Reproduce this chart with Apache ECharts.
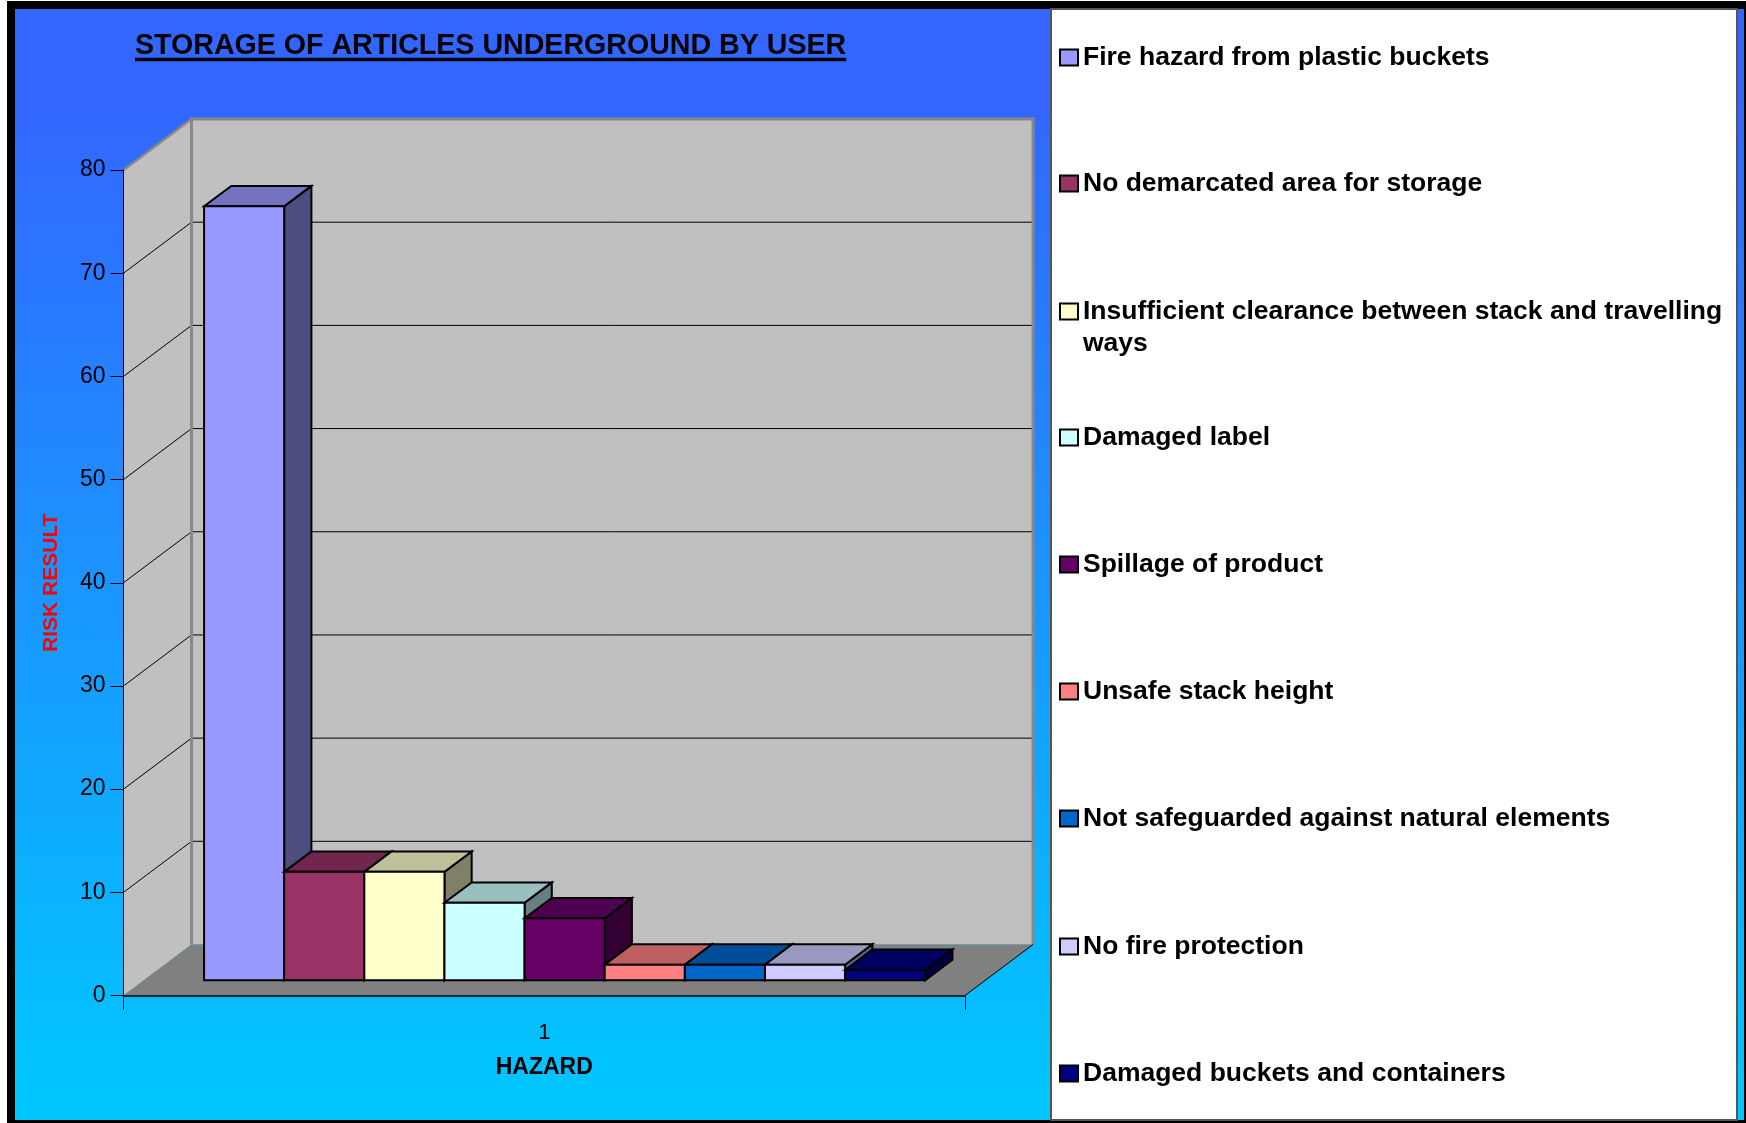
<!DOCTYPE html>
<html>
<head>
<meta charset="utf-8">
<script src="https://cdn.jsdelivr.net/npm/echarts@6/dist/echarts.min.js"></script>
<style>
html,body{margin:0;padding:0;background:#fff;}
#chart{width:1746px;height:1123px;}
</style>
</head>
<body>
<div id="chart"></div>
<script>
// ---------------- data ----------------
const categories = ['1'];
const hazards = [
  'Fire hazard from plastic buckets',
  'No demarcated area for storage',
  'Insufficient clearance between stack and travelling ways',
  'Damaged label',
  'Spillage of product',
  'Unsafe stack height',
  'Not safeguarded against natural elements',
  'No fire protection',
  'Damaged buckets and containers'
];
const riskResults = [75, 10.5, 10.5, 7.5, 6, 1.5, 1.5, 1.5, 1];
const yTicks = [0, 10, 20, 30, 40, 50, 60, 70, 80];

// ---------------- styles / layout ----------------
const barColors = ['#9999FF', '#993366', '#FFFFCC', '#CCFFFF', '#660066', '#FF8080', '#0066CC', '#CCCCFF', '#000080'];
const legendCenters = [57.5, 183.5, 311.5, 437.5, 564.5, 691.5, 818.5, 946.5, 1073.5];
const FONT = "'Liberation Sans', Arial, Helvetica, sans-serif";
const DX = 68, DY = -51;        // depth projection of the 3D box
const F0 = 0.30, FD = 0.40;     // bar front depth / bar depth (fraction of full depth)
const BAR_GROUP = 0.857;        // fraction of the category band used by the bars
const WALL = '#C0C0C0', FLOOR = '#808080', EDGE = '#888888';
const LEGEND_WRAP_INDEX = 2;    // the legend entry that wraps onto a second line

function shade(hex, k) {
  const n = parseInt(hex.slice(1), 16);
  const r = Math.round(((n >> 16) & 255) * k), g = Math.round(((n >> 8) & 255) * k), b = Math.round((n & 255) * k);
  return 'rgb(' + r + ',' + g + ',' + b + ')';
}

function renderWalls(params, api) {
  const c0 = api.coord([0, yTicks[0]]);
  const cT = api.coord([0, yTicks[yTicks.length - 1]]);
  const band = api.size([1, 0])[0];
  const xL = c0[0] - band / 2, xR = c0[0] + band / 2, yB = c0[1], yT = cT[1];
  const ch = [];
  ch.push({type: 'rect', shape: {x: xL + DX, y: yT + DY, width: xR - xL, height: yB - yT}, style: {fill: WALL}});
  ch.push({type: 'polygon', shape: {points: [[xL, yT], [xL + DX, yT + DY], [xL + DX, yB + DY], [xL, yB]]}, style: {fill: WALL}});
  yTicks.slice(1, -1).forEach(function (v) {
    const p = api.coord([0, v]);
    ch.push({type: 'line', shape: {x1: xL, y1: p[1], x2: xL + DX, y2: p[1] + DY}, style: {stroke: '#000', lineWidth: 1}});
    ch.push({type: 'line', shape: {x1: xL + DX, y1: p[1] + DY, x2: xR + DX, y2: p[1] + DY}, style: {stroke: '#000', lineWidth: 1}});
  });
  ch.push({type: 'polyline', shape: {points: [[xL + DX, yB + DY], [xL + DX, yT + DY], [xR + DX, yT + DY], [xR + DX, yB + DY]]}, style: {stroke: EDGE, lineWidth: 3, fill: null}});
  ch.push({type: 'line', shape: {x1: xL, y1: yT, x2: xL + DX, y2: yT + DY}, style: {stroke: EDGE, lineWidth: 2.5}});
  ch.push({type: 'polygon', shape: {points: [[xL, yB], [xR, yB], [xR + DX, yB + DY], [xL + DX, yB + DY]]}, style: {fill: FLOOR}});
  ch.push({type: 'line', shape: {x1: xR, y1: yB, x2: xR + DX, y2: yB + DY}, style: {stroke: '#000', lineWidth: 1}});
  return {type: 'group', children: ch};
}

function makeBarRenderer(i) {
  return function (params, api) {
    const v = api.value(1);
    const base = api.coord([api.value(0), 0]);
    const top = api.coord([api.value(0), v]);
    const band = api.size([1, 0])[0];
    const groupW = band * BAR_GROUP;
    const w = groupW / hazards.length;
    const x0 = base[0] - groupW / 2 + i * w + DX * F0;
    const x1 = x0 + w;
    const yb = base[1] + DY * F0, yt = top[1] + DY * F0;
    const dx = DX * FD, dy = DY * FD;
    const col = barColors[i];
    const st = {stroke: '#000', lineWidth: 2, lineJoin: 'miter'};
    return {type: 'group', children: [
      {type: 'polygon', shape: {points: [[x1, yt], [x1 + dx, yt + dy], [x1 + dx, yb + dy], [x1, yb]]}, style: Object.assign({fill: shade(col, 0.5)}, st)},
      {type: 'polygon', shape: {points: [[x0, yt], [x1, yt], [x1 + dx, yt + dy], [x0 + dx, yt + dy]]}, style: Object.assign({fill: shade(col, 0.75)}, st)},
      {type: 'rect', shape: {x: x0, y: yt, width: w, height: yb - yt}, style: Object.assign({fill: col}, st)}
    ]};
  };
}

const titleText = 'STORAGE OF ARTICLES UNDERGROUND BY USER';
const TITLE_SIZE = 28.6, TITLE_LEFT = 135;
const mctx = document.createElement('canvas').getContext('2d');
mctx.font = 'bold ' + TITLE_SIZE + 'px ' + FONT;
const titleW = mctx.measureText(titleText).width;

const series = [{
  type: 'custom', name: '__walls', silent: true, z: 1,
  renderItem: renderWalls, data: [[0, 0]], encode: {x: 0, y: 1}
}].concat(hazards.map(function (name, i) {
  return {
    type: 'custom', name: name, z: 3 + i * 0.01,
    itemStyle: {color: barColors[i]},
    renderItem: makeBarRenderer(i),
    data: [[0, riskResults[i]]], encode: {x: 0, y: 1}
  };
}));

const legends = hazards.map(function (name, i) {
  const two = (i === LEGEND_WRAP_INDEX);
  return {
    data: [name], orient: 'vertical', left: 1059, top: legendCenters[i] - (two ? 48 : 16),
    padding: 0, icon: 'rect', itemWidth: 18, itemHeight: 16, itemGap: 0, selectedMode: false,
    itemStyle: {borderColor: '#000', borderWidth: 2},
    // an empty leading line keeps the marker level with the first text line of the wrapped entry
    formatter: two ? function (n) { return '\n' + n; } : '{name}',
    textStyle: {fontFamily: FONT, fontSize: 26.5, fontWeight: 'bold', color: '#000', lineHeight: 32,
      width: 652, overflow: 'break'}
  };
});

const chart = echarts.init(document.getElementById('chart'), null, {renderer: 'canvas'});
chart.setOption({
  animation: false,
  title: {text: titleText, left: TITLE_LEFT, top: 30, padding: 0,
    textStyle: {fontFamily: FONT, fontSize: TITLE_SIZE, fontWeight: 'bold', color: '#000', lineHeight: 32}},
  graphic: [
    {type: 'rect', z: -30, silent: true, shape: {x: 7, y: 1, width: 1739, height: 1122}, style: {fill: '#000'}},
    {type: 'rect', z: -29, silent: true, shape: {x: 15, y: 9, width: 1729, height: 1111},
      style: {fill: new echarts.graphic.LinearGradient(0, 0, 0, 1, [
        {offset: 0, color: '#3366FF'}, {offset: 0.08, color: '#3366FF'}, {offset: 1, color: '#00C8FF'}])}},
    {type: 'rect', z: -28, silent: true, shape: {x: 1051, y: 9, width: 686, height: 1111},
      style: {fill: '#FFFFFF', stroke: '#555555', lineWidth: 2}},
    {type: 'line', z: 10, silent: true, shape: {x1: TITLE_LEFT, y1: 59.5, x2: TITLE_LEFT + titleW, y2: 59.5},
      style: {stroke: '#000', lineWidth: 3.5}}
  ],
  legend: legends,
  grid: {left: 123.5, right: 781, top: 170, bottom: 127.5, containLabel: false, outerBoundsMode: 'none'},
  xAxis: {
    type: 'category', data: categories, boundaryGap: true, z: 5,
    axisLine: {show: true, lineStyle: {color: '#000', width: 1.5}},
    axisTick: {show: true, length: 14, lineStyle: {color: '#000', width: 1}},
    axisLabel: {fontFamily: FONT, fontSize: 22, color: '#000', margin: 26},
    splitLine: {show: false},
    name: 'HAZARD', nameLocation: 'middle', nameGap: 61,
    nameTextStyle: {fontFamily: FONT, fontSize: 23, fontWeight: 'bold', color: '#000'}
  },
  yAxis: {
    type: 'value', min: yTicks[0], max: yTicks[yTicks.length - 1], interval: yTicks[1] - yTicks[0], z: 5,
    axisLine: {show: true, lineStyle: {color: '#000', width: 1}},
    axisTick: {show: true, length: 13, lineStyle: {color: '#000', width: 1}},
    axisLabel: {fontFamily: FONT, fontSize: 23, color: '#000', margin: 18},
    splitLine: {show: false},
    name: 'RISK RESULT', nameLocation: 'middle', nameRotate: 90, nameGap: 62,
    nameTextStyle: {fontFamily: FONT, fontSize: 21, fontWeight: 'bold', color: '#FF0000'}
  },
  series: series
});
</script>
</body>
</html>
